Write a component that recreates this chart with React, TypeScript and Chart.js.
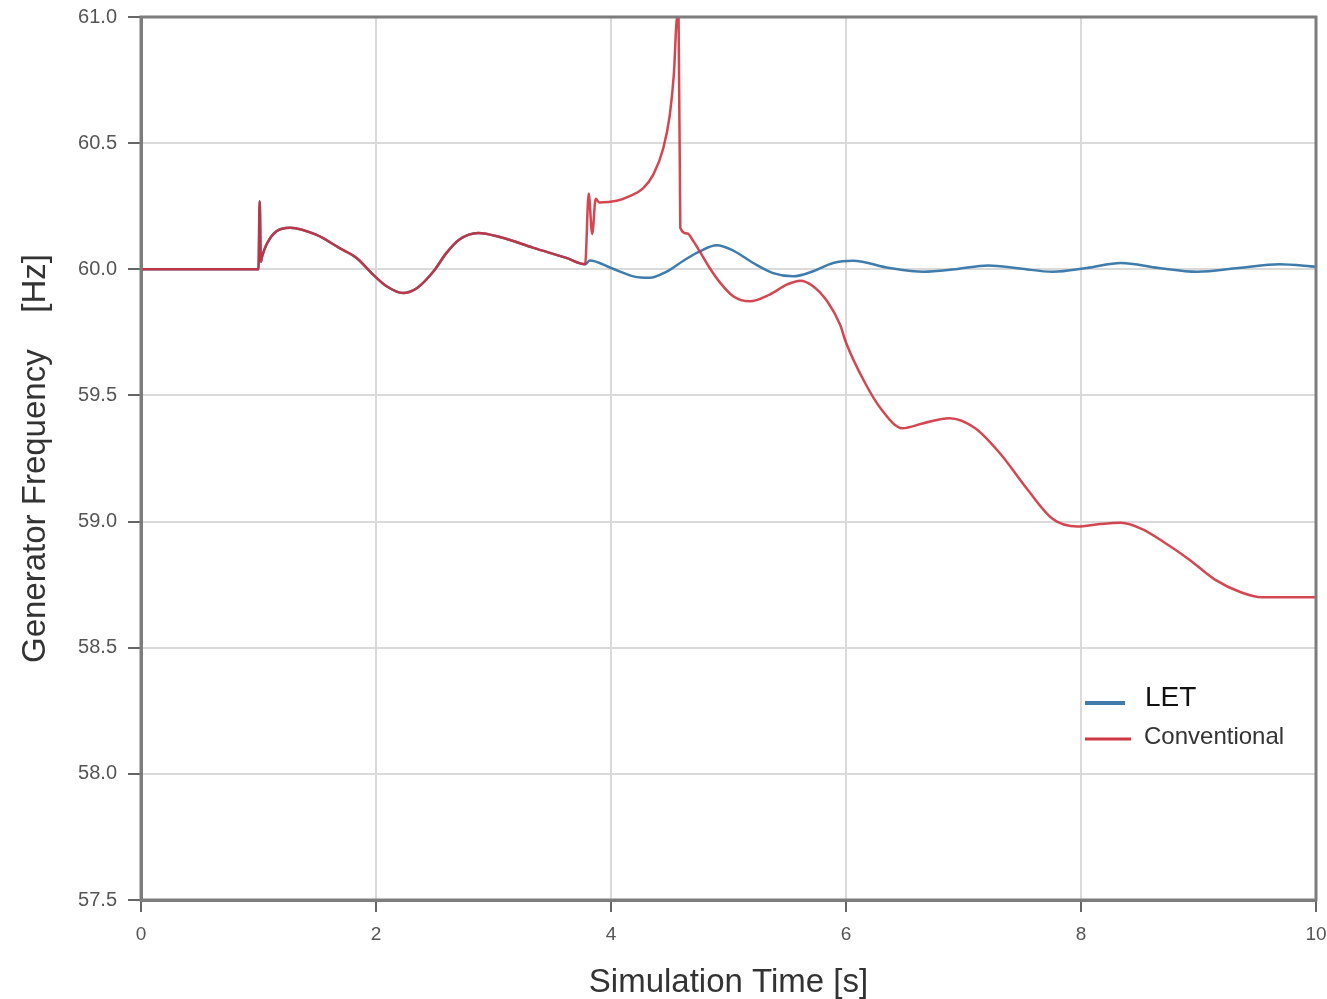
import React, { useEffect, useRef } from "react";
import { Chart, registerables } from "chart.js";

Chart.register(...registerables);

// Shared pre-fault trajectory (both systems identical until ~3.78 s)
const sharedTime = [0, 1.0, 1.01, 1.02, 1.03, 1.07, 1.15, 1.27, 1.49, 1.69, 1.835, 1.975, 2.09, 2.23, 2.35, 2.49, 2.6, 2.71, 2.87, 3.06, 3.34, 3.62, 3.78];
const sharedFreq = [60.0, 60.0, 60.27, 60.03, 60.05, 60.1, 60.15, 60.165, 60.137, 60.084, 60.045, 59.979, 59.933, 59.906, 59.926, 59.992, 60.065, 60.118, 60.144, 60.127, 60.085, 60.045, 60.02];

// Conventional after 3.78 s
const convTime = [3.81, 3.84, 3.87, 3.9, 4.05, 4.16, 4.27, 4.36, 4.445, 4.5, 4.536, 4.56, 4.575, 4.59, 4.65, 4.7, 4.755, 4.84, 4.93, 5.04, 5.18, 5.35, 5.5, 5.61, 5.72, 5.84, 5.95, 6.0, 6.15, 6.3, 6.48, 6.66, 6.88, 7.1, 7.32, 7.54, 7.76, 7.97, 8.16, 8.34, 8.52, 8.7, 8.92, 9.14, 9.36, 9.54, 10.0];
const convFreq = [60.3, 60.14, 60.28, 60.265, 60.272, 60.29, 60.32, 60.375, 60.48, 60.61, 60.78, 60.99, 61.0, 60.164, 60.142, 60.112, 60.071, 60.005, 59.946, 59.893, 59.873, 59.9, 59.94, 59.955, 59.933, 59.873, 59.78, 59.71, 59.56, 59.445, 59.37, 59.39, 59.41, 59.37, 59.265, 59.13, 59.01, 58.98, 58.99, 58.995, 58.97, 58.92, 58.85, 58.77, 58.72, 58.7, 58.7];

// LET after 3.78 s
const letTime = [3.82, 4.0, 4.19, 4.33, 4.47, 4.62, 4.755, 4.9, 5.04, 5.21, 5.38, 5.55, 5.72, 5.89, 6.06, 6.37, 6.66, 6.93, 7.21, 7.48, 7.76, 8.05, 8.34, 8.66, 8.99, 9.34, 9.69, 10.0];
const letFreq = [60.035, 60.005, 59.972, 59.966, 59.99, 60.035, 60.071, 60.095, 60.074, 60.025, 59.985, 59.972, 59.992, 60.025, 60.034, 60.005, 59.99, 60.0, 60.015, 60.003, 59.99, 60.005, 60.025, 60.005, 59.99, 60.005, 60.02, 60.01];

const xTicks = [0, 2, 4, 6, 8, 10];
const yTicks = [57.5, 58.0, 58.5, 59.0, 59.5, 60.0, 60.5, 61.0];
const seriesNames = ["LET", "Conventional"];
const xTitle = "Simulation Time [s]";
const yTitle = "Generator Frequency    [Hz]";

const FONT = "'Liberation Sans', Arial, Helvetica, sans-serif";
const RED = "rgba(205, 45, 58, 0.88)";
const BLUE = "#3f7cab";

const toPoints = (t: number[], f: number[]) => t.map((x, i) => ({ x, y: f[i] }));

const framePlugin = {
  id: "frame",
  afterDatasetsDraw(chart: any) {
    const { ctx, chartArea } = chart;
    ctx.save();
    ctx.strokeStyle = "#7d7d7d";
    ctx.lineWidth = 3;
    ctx.strokeRect(chartArea.left, chartArea.top, chartArea.right - chartArea.left, chartArea.bottom - chartArea.top);
    ctx.restore();
  },
};

const legendPlugin = {
  id: "insideLegend",
  afterDraw(chart: any) {
    const { ctx } = chart;
    ctx.save();
    ctx.lineCap = "butt";
    ctx.strokeStyle = BLUE;
    ctx.lineWidth = 4;
    ctx.beginPath();
    ctx.moveTo(1085, 703);
    ctx.lineTo(1125, 703);
    ctx.stroke();
    ctx.fillStyle = "#111";
    ctx.textBaseline = "middle";
    ctx.textAlign = "left";
    ctx.font = `28px ${FONT}`;
    ctx.fillText(seriesNames[0], 1145, 698);
    ctx.strokeStyle = "rgb(205, 55, 65)";
    ctx.lineWidth = 3;
    ctx.beginPath();
    ctx.moveTo(1085, 739);
    ctx.lineTo(1131, 739);
    ctx.stroke();
    ctx.fillStyle = "#333";
    ctx.font = `24px ${FONT}`;
    ctx.fillText(seriesNames[1], 1144, 737);
    ctx.restore();
  },
};

const zeroPad = (s: any) => {
  s.paddingTop = 0;
  s.paddingBottom = 0;
  s.paddingLeft = 0;
  s.paddingRight = 0;
};

export default function App() {
  const ref = useRef<HTMLCanvasElement | null>(null);

  useEffect(() => {
    if (!ref.current) return;
    const conv = toPoints(sharedTime.concat(convTime), sharedFreq.concat(convFreq));
    const letp = toPoints(sharedTime.concat(letTime), sharedFreq.concat(letFreq));
    const chart = new Chart(ref.current, {
      type: "line",
      data: {
        datasets: [
          {
            label: seriesNames[1],
            data: conv,
            borderColor: RED,
            borderWidth: 2.5,
            pointRadius: 0,
            cubicInterpolationMode: "monotone",
            fill: false,
          },
          {
            label: seriesNames[0],
            data: letp,
            borderColor: BLUE,
            borderWidth: 2.5,
            pointRadius: 0,
            cubicInterpolationMode: "monotone",
            fill: false,
          },
        ],
      },
      options: {
        animation: false,
        responsive: true,
        maintainAspectRatio: false,
        layout: { padding: { top: 17, right: 11, left: 0, bottom: 0 } },
        plugins: {
          legend: { display: false },
          tooltip: { enabled: false },
        },
        scales: {
          x: {
            type: "linear",
            min: 0,
            max: 10,
            afterBuildTicks: (s: any) => {
              s.ticks = xTicks.map((v) => ({ value: v }));
            },
            afterFit: (s: any) => {
              s.height = 99;
              zeroPad(s);
            },
            ticks: {
              autoSkip: false,
              maxRotation: 0,
              padding: 11,
              color: "#555",
              font: { family: FONT, size: 19 },
              callback: (v: any) => String(v),
            },
            grid: {
              color: "#dadada",
              lineWidth: 2,
              tickLength: 12,
              tickColor: "#666",
              tickWidth: 2,
            },
            border: { display: true, color: "#7d7d7d", width: 3 },
            title: {
              display: true,
              text: xTitle,
              color: "#333",
              font: { family: FONT, size: 33, lineHeight: 1 },
              padding: { top: 0, bottom: 0 },
            },
          },
          y: {
            type: "linear",
            min: 57.5,
            max: 61.0,
            afterBuildTicks: (s: any) => {
              s.ticks = yTicks.map((v) => ({ value: v }));
            },
            afterFit: (s: any) => {
              s.width = 141;
              zeroPad(s);
            },
            ticks: {
              autoSkip: false,
              padding: 11,
              color: "#555",
              font: { family: FONT, size: 20 },
              callback: (v: any) => Number(v).toFixed(1),
            },
            grid: {
              color: "#dadada",
              lineWidth: 2,
              tickLength: 13,
              tickColor: "#666",
              tickWidth: 2,
            },
            border: { display: true, color: "#7d7d7d", width: 3 },
            title: {
              display: true,
              text: yTitle,
              color: "#333",
              font: { family: FONT, size: 33, lineHeight: 1.2 },
              padding: { top: 16, bottom: 0 },
            },
          },
        },
      },
      plugins: [framePlugin, legendPlugin],
    });
    return () => chart.destroy();
  }, []);

  return (
    <div style={{ position: "fixed", left: 0, top: 0, width: 1327, height: 999, background: "#fff" }}>
      <canvas ref={ref} />
    </div>
  );
}
